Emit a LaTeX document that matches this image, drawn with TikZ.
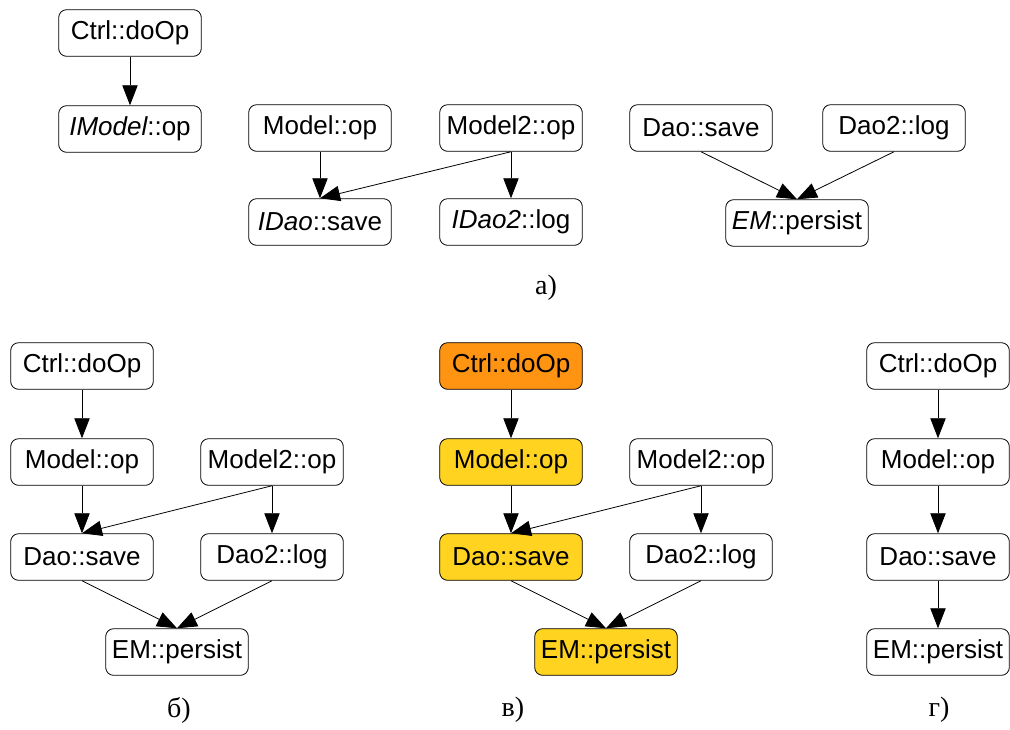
\documentclass[tikz,border=0pt]{standalone}
\usepackage{fontspec}
\setmainfont{Liberation Serif}
\newfontfamily\boxfont{Liberation Sans}
\usetikzlibrary{arrows.meta}
\definecolor{hlorange}{RGB}{255,148,18}
\definecolor{hlyellow}{RGB}{255,211,32}
\tikzset{
  box/.style={draw=black, line width=0.6pt, rounded corners=6pt, fill=white,
    minimum width=107pt, minimum height=35pt, inner sep=0pt,
    font=\boxfont\fontsize{19.5pt}{22pt}\selectfont},
  orangebox/.style={box, fill=hlorange},
  yellowbox/.style={box, fill=hlyellow},
  arr/.style={draw=black, line width=0.6pt, -{Triangle[length=15pt,width=11.5pt]}},
  captext/.style={font=\fontsize{21pt}{24pt}\selectfont, inner sep=0pt}
}
\begin{document}
\begin{tikzpicture}[x=0.75pt,y=-0.75pt]
\useasboundingbox (0,0) rectangle (1010,729);
% panel a
\node[box] (actrl) at (130,33) {Ctrl::doOp};
\node[box] (aimodel) at (130,129) {{\itshape IModel}::op};
\node[box] (amodel) at (320,128) {Model::op};
\node[box] (amodeltwo) at (511,128) {Model2::op};
\node[box] (aidao) at (320,222) {{\itshape IDao}::save};
\node[box] (aidaotwo) at (511,222) {{\itshape IDao2}::log};
\node[box] (adao) at (701,128) {Dao::save};
\node[box] (adaotwo) at (894,128) {Dao2::log};
\node[box] (aem) at (797,223) {{\itshape EM}::persist};
\draw[arr] (actrl.south) -- (aimodel.north);
\draw[arr] (amodel.south) -- (aidao.north);
\draw[arr] (amodeltwo.south) -- (aidao.north);
\draw[arr] (amodeltwo.south) -- (aidaotwo.north);
\draw[arr] (adao.south) -- (aem.north);
\draw[arr] (adaotwo.south) -- (aem.north);
\node[captext] (la) at (546,288) {а)};
% panel b
\node[box] (bctrl) at (82,366) {Ctrl::doOp};
\node[box] (bmodel) at (82,462) {Model::op};
\node[box] (bmodeltwo) at (272,462) {Model2::op};
\node[box] (bdao) at (82,557) {Dao::save};
\node[box] (bdaotwo) at (272,557) {Dao2::log};
\node[box] (bem) at (177,652) {EM::persist};
\draw[arr] (bctrl.south) -- (bmodel.north);
\draw[arr] (bmodel.south) -- (bdao.north);
\draw[arr] (bmodeltwo.south) -- (bdao.north);
\draw[arr] (bmodeltwo.south) -- (bdaotwo.north);
\draw[arr] (bdao.south) -- (bem.north);
\draw[arr] (bdaotwo.south) -- (bem.north);
\node[captext] (lb) at (179,710) {б)};
% panel c
\node[orangebox] (cctrl) at (511,366) {Ctrl::doOp};
\node[yellowbox] (cmodel) at (511,462) {Model::op};
\node[box] (cmodeltwo) at (701,462) {Model2::op};
\node[yellowbox] (cdao) at (511,557) {Dao::save};
\node[box] (cdaotwo) at (701,557) {Dao2::log};
\node[yellowbox] (cem) at (606,652) {EM::persist};
\draw[arr] (cctrl.south) -- (cmodel.north);
\draw[arr] (cmodel.south) -- (cdao.north);
\draw[arr] (cmodeltwo.south) -- (cdao.north);
\draw[arr] (cmodeltwo.south) -- (cdaotwo.north);
\draw[arr] (cdao.south) -- (cem.north);
\draw[arr] (cdaotwo.south) -- (cem.north);
\node[captext] (lc) at (513,710) {в)};
% panel d
\node[box] (dctrl) at (938,366) {Ctrl::doOp};
\node[box] (dmodel) at (938,462) {Model::op};
\node[box] (ddao) at (938,557) {Dao::save};
\node[box] (dem) at (938,652) {EM::persist};
\draw[arr] (dctrl.south) -- (dmodel.north);
\draw[arr] (dmodel.south) -- (ddao.north);
\draw[arr] (ddao.south) -- (dem.north);
\node[captext] (ld) at (939,710) {г)};
\end{tikzpicture}
\end{document}
